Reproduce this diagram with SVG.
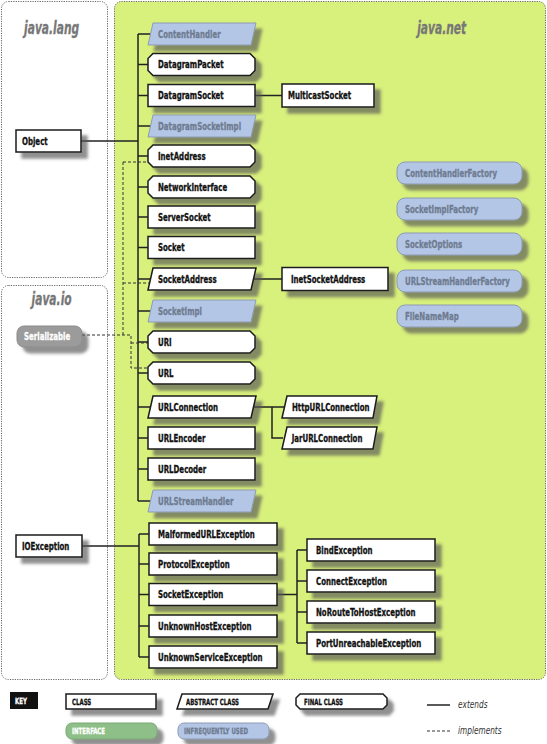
<svg xmlns="http://www.w3.org/2000/svg" width="547" height="744" viewBox="0 0 547 744">
<defs>
<filter id="sh" x="-10%" y="-20%" width="130%" height="180%"><feDropShadow dx="6" dy="6" stdDeviation="1.5" flood-color="#555" flood-opacity="0.65"/></filter>
<style>
.pan{fill:#fff;stroke:#666;stroke-width:1;stroke-dasharray:1.2 1.2}
.net{fill:#d8f07c}
.ttl{font-family:"DejaVu Sans Condensed","Liberation Sans",sans-serif;font-style:italic;font-weight:bold;font-size:18px;fill:#777;stroke:#777;stroke-width:0.3;text-anchor:middle;transform-box:fill-box;transform-origin:50% 50%;transform:scaleX(0.66)}
.cls{fill:#fff;stroke:#1a1a1a;stroke-width:1.5}
.inf{fill:#b4c6e6;stroke:#8d9ab2;stroke-width:1}
.ser{fill:#9b9b9b;stroke:#8a8a8a;stroke-width:1}
.grn{fill:#8fbf88;stroke:#7aa874;stroke-width:1}
.t{font-family:"DejaVu Sans Condensed","Liberation Sans",sans-serif;font-weight:bold;font-size:11px;fill:#111;stroke:#111;stroke-width:0.3;transform-box:fill-box;transform-origin:0 50%;transform:scaleX(0.71)}
.ti{fill:#6e7b90;stroke:#6e7b90}
.tw{fill:#fff;stroke:#fff}
.k{font-size:8.5px;transform:scaleX(0.71)}
.ln{fill:none;stroke:#222;stroke-width:1.5}
.dl{fill:none;stroke:#333;stroke-width:1;stroke-dasharray:3 2}
.it{font-family:"DejaVu Sans Condensed","Liberation Sans",sans-serif;font-style:italic;font-size:10px;fill:#333;transform-box:fill-box;transform-origin:0 50%;transform:scaleX(0.82)}
</style>
</defs>

<g id="panels">
<rect class="pan" x="1.5" y="1.5" width="106" height="276" rx="7"/>
<rect class="pan" x="1.5" y="285.5" width="106" height="394" rx="7"/>
<rect class="pan net" x="114.5" y="1.5" width="431" height="678" rx="7"/>
<text class="ttl" x="52" y="34">java.lang</text>
<text class="ttl" x="52" y="305">java.io</text>
<text class="ttl" x="442" y="34">java.net</text>
</g>

<g id="connectors">
<path class="ln" d="M138,34V501M138,34H152M138,64.5H148M138,95.5H148M138,126H152M138,156H148M138,187H148M138,217H148M138,247.5H148M138,279H151M138,311H152M138,342H148M138,373H148M138,407H151M138,438H148M138,469H148M138,501H152"/>
<path class="ln" d="M81,141H138"/>
<path class="ln" d="M255,95.5H282"/>
<path class="ln" d="M253,279H282"/>
<path class="ln" d="M253,407H285M272,407V438H283"/>
<path class="ln" d="M82,546H139M139,534V657M139,534H149M139,564H149M139,594.5H149M139,626H149M139,657H149"/>
<path class="ln" d="M277,594.5H297M297,550V643M297,550H307M297,581H307M297,612H307M297,643H307"/>
<path class="dl" d="M123,162H148M123,162V335M123,283H150M82,335H131V368H148M131,343H148"/>
</g>

<g id="Object"><rect class="cls" filter="url(#sh)" x="16" y="130" width="65" height="22"/><text class="t" x="22" y="145">Object</text></g>
<g id="Serializable"><rect class="ser" filter="url(#sh)" x="17" y="326" width="65" height="21" rx="7"/><text class="t tw" x="24" y="340">Serializable</text></g>
<g id="IOException"><rect class="cls" filter="url(#sh)" x="16" y="535" width="66" height="22"/><text class="t" x="22" y="550">IOException</text></g>

<g id="ContentHandler"><polygon class="inf" filter="url(#sh)" points="153,23 256,23 251,45 148,45"/><text class="t ti" x="158" y="38">ContentHandler</text></g>
<g id="DatagramPacket"><polygon class="cls" filter="url(#sh)" points="153,53.5 250,53.5 255,58.5 255,70.5 250,75.5 153,75.5 148,70.5 148,58.5"/><text class="t" x="158" y="68.5">DatagramPacket</text></g>
<g id="DatagramSocket"><rect class="cls" filter="url(#sh)" x="148" y="84.5" width="107" height="22"/><text class="t" x="158" y="99.5">DatagramSocket</text></g>
<g id="DatagramSocketImpl"><polygon class="inf" filter="url(#sh)" points="153,115 256,115 251,137 148,137"/><text class="t ti" x="158" y="130">DatagramSocketImpl</text></g>
<g id="InetAddress"><polygon class="cls" filter="url(#sh)" points="153,145 250,145 255,150 255,162 250,167 153,167 148,162 148,150"/><text class="t" x="158" y="160">InetAddress</text></g>
<g id="NetworkInterface"><polygon class="cls" filter="url(#sh)" points="153,176 250,176 255,181 255,193 250,198 153,198 148,193 148,181"/><text class="t" x="158" y="191">NetworkInterface</text></g>
<g id="ServerSocket"><rect class="cls" filter="url(#sh)" x="148" y="206" width="107" height="22"/><text class="t" x="158" y="221">ServerSocket</text></g>
<g id="Socket"><rect class="cls" filter="url(#sh)" x="148" y="236.5" width="107" height="22"/><text class="t" x="158" y="251.5">Socket</text></g>
<g id="SocketAddress"><polygon class="cls" filter="url(#sh)" points="153,268 256,268 251,290 148,290"/><text class="t" x="158" y="283">SocketAddress</text></g>
<g id="SocketImpl"><polygon class="inf" filter="url(#sh)" points="153,300 256,300 251,322 148,322"/><text class="t ti" x="158" y="315">SocketImpl</text></g>
<g id="URI"><polygon class="cls" filter="url(#sh)" points="153,331 250,331 255,336 255,348 250,353 153,353 148,348 148,336"/><text class="t" x="158" y="346">URI</text></g>
<g id="URL"><polygon class="cls" filter="url(#sh)" points="153,362 250,362 255,367 255,379 250,384 153,384 148,379 148,367"/><text class="t" x="158" y="377">URL</text></g>
<g id="URLConnection"><polygon class="cls" filter="url(#sh)" points="153,396 256,396 251,418 148,418"/><text class="t" x="158" y="411">URLConnection</text></g>
<g id="URLEncoder"><rect class="cls" filter="url(#sh)" x="148" y="427" width="107" height="22"/><text class="t" x="158" y="442">URLEncoder</text></g>
<g id="URLDecoder"><rect class="cls" filter="url(#sh)" x="148" y="458" width="107" height="22"/><text class="t" x="158" y="473">URLDecoder</text></g>
<g id="URLStreamHandler"><polygon class="inf" filter="url(#sh)" points="153,490 256,490 251,512 148,512"/><text class="t ti" x="158" y="505">URLStreamHandler</text></g>

<g id="MulticastSocket"><rect class="cls" filter="url(#sh)" x="282" y="84" width="92" height="23"/><text class="t" x="288" y="99.5">MulticastSocket</text></g>
<g id="InetSocketAddress"><rect class="cls" filter="url(#sh)" x="282" y="267.5" width="106" height="23"/><text class="t" x="291" y="283">InetSocketAddress</text></g>
<g id="HttpURLConnection"><polygon class="cls" filter="url(#sh)" points="287,396 377,396 373,418 282,418"/><text class="t" x="292" y="411">HttpURLConnection</text></g>
<g id="JarURLConnection"><polygon class="cls" filter="url(#sh)" points="287,427 377,427 373,449 282,449"/><text class="t" x="292" y="442">JarURLConnection</text></g>

<g id="ContentHandlerFactory"><rect class="inf" filter="url(#sh)" x="397" y="162" width="125" height="22" rx="8"/><text class="t ti" x="405" y="177">ContentHandlerFactory</text></g>
<g id="SocketImplFactory"><rect class="inf" filter="url(#sh)" x="397" y="198" width="125" height="22" rx="8"/><text class="t ti" x="405" y="213">SocketImplFactory</text></g>
<g id="SocketOptions"><rect class="inf" filter="url(#sh)" x="397" y="233" width="125" height="22" rx="8"/><text class="t ti" x="405" y="248">SocketOptions</text></g>
<g id="URLStreamHandlerFactory"><rect class="inf" filter="url(#sh)" x="397" y="270" width="125" height="22" rx="8"/><text class="t ti" x="405" y="285">URLStreamHandlerFactory</text></g>
<g id="FileNameMap"><rect class="inf" filter="url(#sh)" x="397" y="305" width="125" height="22" rx="8"/><text class="t ti" x="405" y="320">FileNameMap</text></g>

<g id="MalformedURLException"><rect class="cls" filter="url(#sh)" x="149" y="523" width="128" height="22"/><text class="t" x="158" y="538">MalformedURLException</text></g>
<g id="ProtocolException"><rect class="cls" filter="url(#sh)" x="149" y="553" width="128" height="22"/><text class="t" x="158" y="568">ProtocolException</text></g>
<g id="SocketException"><rect class="cls" filter="url(#sh)" x="149" y="583.5" width="128" height="22"/><text class="t" x="158" y="598.5">SocketException</text></g>
<g id="UnknownHostException"><rect class="cls" filter="url(#sh)" x="149" y="615" width="128" height="22"/><text class="t" x="158" y="630">UnknownHostException</text></g>
<g id="UnknownServiceException"><rect class="cls" filter="url(#sh)" x="149" y="646" width="128" height="22"/><text class="t" x="158" y="661">UnknownServiceException</text></g>

<g id="BindException"><rect class="cls" filter="url(#sh)" x="307" y="539" width="128" height="22"/><text class="t" x="316" y="554">BindException</text></g>
<g id="ConnectException"><rect class="cls" filter="url(#sh)" x="307" y="570" width="128" height="22"/><text class="t" x="316" y="585">ConnectException</text></g>
<g id="NoRouteToHostException"><rect class="cls" filter="url(#sh)" x="307" y="601" width="128" height="22"/><text class="t" x="316" y="616">NoRouteToHostException</text></g>
<g id="PortUnreachableException"><rect class="cls" filter="url(#sh)" x="307" y="632" width="128" height="22"/><text class="t" x="316" y="647">PortUnreachableException</text></g>

<g id="key">
<rect x="10" y="692" width="28" height="17" fill="#111"/><text class="t tw k" x="15" y="704">KEY</text>
<rect class="cls" filter="url(#sh)" x="66" y="694" width="90" height="15"/><text class="t k" x="72" y="705">CLASS</text>
<polygon class="cls" filter="url(#sh)" points="182,694 273,694 268,709 177,709"/><text class="t k" x="186" y="705">ABSTRACT CLASS</text>
<polygon class="cls" filter="url(#sh)" points="300,694 383,694 387,698 387,705 383,709 300,709 296,705 296,698"/><text class="t k" x="304" y="705">FINAL CLASS</text>
<rect class="grn" filter="url(#sh)" x="66" y="723" width="91" height="16" rx="6"/><text class="t tw k" x="72" y="734">INTERFACE</text>
<rect class="inf" filter="url(#sh)" x="178" y="723" width="91" height="16" rx="6"/><text class="t ti k" x="184" y="734">INFREQUENTLY USED</text>
<path class="ln" d="M427,705H450"/><text class="it" x="458" y="708">extends</text>
<path class="dl" d="M427,731H450"/><text class="it" x="458" y="734">implements</text>
</g>
</svg>
